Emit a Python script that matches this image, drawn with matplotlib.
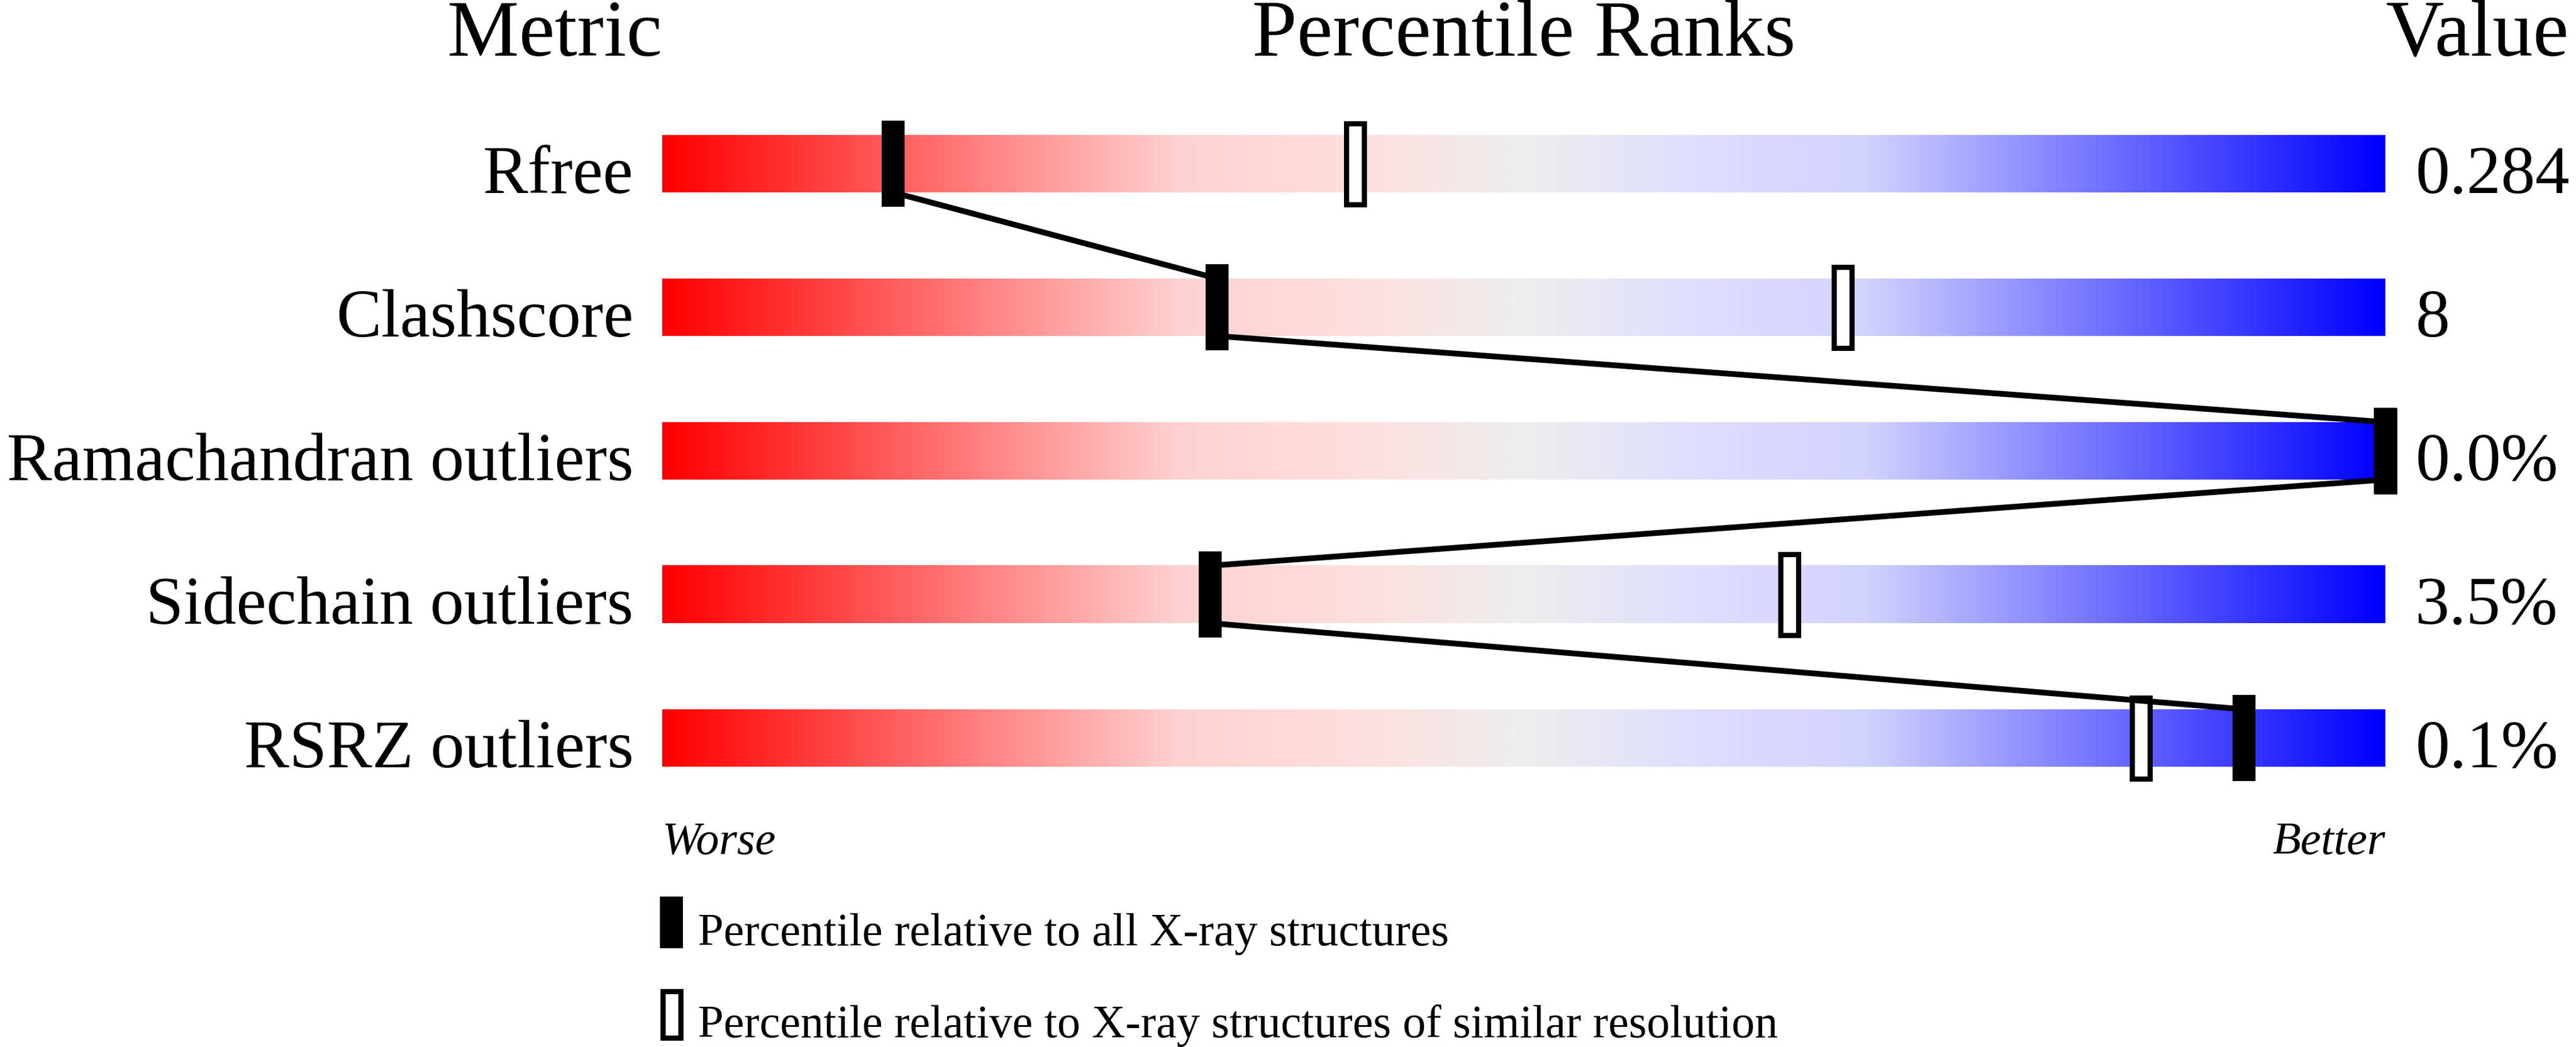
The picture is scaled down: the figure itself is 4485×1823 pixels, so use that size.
import numpy as np
import matplotlib
matplotlib.use('Agg')
import matplotlib.pyplot as plt
from matplotlib.colors import LinearSegmentedColormap
from matplotlib.patches import Rectangle

# Data
metrics = ['Rfree', 'Clashscore', 'Ramachandran outliers', 'Sidechain outliers', 'RSRZ outliers']
values = ['0.284', '8', '0.0%', '3.5%', '0.1%']
pct_all = [13.4, 32.2, 100.0, 31.8, 91.8]       # relative to all X-ray structures
pct_similar = [40.2, 68.5, 100.0, 65.4, 85.8]   # relative to similar resolution
legend_labels = ['Percentile relative to all X-ray structures',
                 'Percentile relative to X-ray structures of similar resolution']

grad_stops = [0.0, 0.3, 0.4, 0.5, 0.6, 0.7, 1.0]
grad_colors = ['#ff0000', '#ffd2d2', '#ffdede', '#eeeeee', '#dedeff', '#d2d2ff', '#0000ff']

# layout (pixels of the 4485x1824 picture)
W, H = 4485, 1824
bar_left, bar_right = 1153, 4153
row0, row_step = 286, 250
px = (bar_right - bar_left) / 100.0     # pixels per percentile unit
bar_h = 100 / row_step
mark_w = 40 / px
mark_h = 150 / row_step
edge_px = 9

plt.rcParams['font.family'] = ['Liberation Serif', 'DejaVu Serif']

fig = plt.figure(figsize=(W / 100, H / 100), dpi=100)
ax = fig.add_axes([0, 0, 1, 1])
ax.set_xlim(-bar_left / px, (W - bar_left) / px)
ax.set_ylim((H - row0) / row_step, -row0 / row_step)
ax.axis('off')

cmap = LinearSegmentedColormap.from_list('slider', list(zip(grad_stops, grad_colors)))
grad = np.linspace(0, 1, 1200).reshape(1, -1)
n = len(metrics)

for i in range(n):
    ax.imshow(grad, cmap=cmap, aspect='auto', interpolation='bilinear',
              extent=[0, 100, i + bar_h / 2, i - bar_h / 2], zorder=1)
    ax.text(-50 / px, i + bar_h / 2, metrics[i], ha='right', va='baseline', fontsize=85)
    ax.text(100 + 52 / px, i + bar_h / 2, values[i], ha='left', va='baseline', fontsize=86)

# hollow markers (similar resolution)
ew = edge_px / px
eh = edge_px / row_step
for i, p in enumerate(pct_similar):
    ax.add_patch(Rectangle((p - mark_w / 2 + ew / 2, i - mark_h / 2 + eh / 2),
                           mark_w - ew, mark_h - eh, facecolor='white',
                           edgecolor='black', linewidth=edge_px * 0.72, zorder=2))

# connecting line between the black markers
for i in range(n - 1):
    ax.plot([pct_all[i], pct_all[i + 1]], [i + bar_h / 2, i + 1 - bar_h / 2],
            color='black', linewidth=10 * 0.72, solid_capstyle='butt', zorder=3)

# solid markers (all structures)
for i, p in enumerate(pct_all):
    ax.add_patch(Rectangle((p - mark_w / 2, i - mark_h / 2), mark_w, mark_h,
                           facecolor='black', edgecolor='none', zorder=4))

# headers
hdr_y = (97 - row0) / row_step
ax.text(0, hdr_y, 'Metric', ha='right', va='baseline', fontsize=101)
ax.text(50, hdr_y, 'Percentile Ranks', ha='center', va='baseline', fontsize=101)
ax.text(100, hdr_y, 'Value', ha='left', va='baseline', fontsize=101)

# worse / better
wb_y = (1487 - row0) / row_step
ax.text(0, wb_y, 'Worse', ha='left', va='baseline', fontsize=58, style='italic')
ax.text(100, wb_y, 'Better', ha='right', va='baseline', fontsize=58, style='italic')

# legend
leg_top = [(1562 - row0) / row_step, (1722 - row0) / row_step]
leg_h = 90 / row_step
lx = -4 / px
ax.add_patch(Rectangle((lx, leg_top[0]), mark_w, leg_h, facecolor='black',
                       edgecolor='none'))
ax.add_patch(Rectangle((lx + ew / 2, leg_top[1] + eh / 2), mark_w - ew, leg_h - eh,
                       facecolor='white', edgecolor='black', linewidth=edge_px * 0.72))
for k, lab in enumerate(legend_labels):
    ax.text((1215 - bar_left) / px, leg_top[k] + (84 / row_step), lab,
            ha='left', va='baseline', fontsize=58)

fig.savefig('out.png', dpi=100)
